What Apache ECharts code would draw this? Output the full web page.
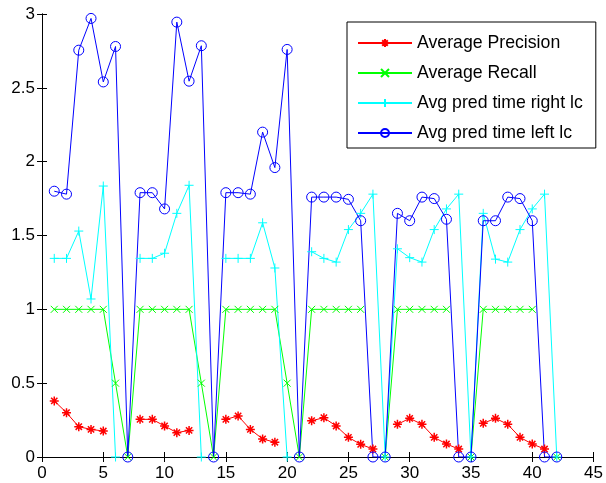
<!DOCTYPE html>
<html>
<head>
<meta charset="utf-8">
<script src="https://cdn.jsdelivr.net/npm/echarts@6/dist/echarts.min.js"></script>
<style>
html,body{margin:0;padding:0;background:#fff;}
#c{width:606px;height:483px;}
</style>
</head>
<body>
<div id="c"></div>
<script>
const xValues = [1,2,3,4,5,6,7,8,9,10,11,12,13,14,15,16,17,18,19,20,21,22,23,24,25,26,27,28,29,30,31,32,33,34,35,36,37,38,39,40,41,42];
const precision = [0.38,0.30,0.205,0.187,0.176,null,null, 0.255,0.255,0.21,0.165,0.18,null,null, 0.255,0.278,0.187,0.122,0.10,null,null, 0.246,0.266,0.21,0.133,0.086,0.054,null, 0.221,0.262,0.221,0.133,0.088,0.054,null, 0.228,0.262,0.221,0.133,0.088,0.054,null];
const recall = [1,1,1,1,1,0.5,0, 1,1,1,1,1,0.5,0, 1,1,1,1,1,0.5,0, 1,1,1,1,1,null,0, 1,1,1,1,1,null,0, 1,1,1,1,1,null,0];
const rightTime = [1.345,1.345,1.53,1.07,1.835,0,null, 1.345,1.345,1.38,1.65,1.84,0,null, 1.345,1.345,1.345,1.586,1.28,0,null, 1.39,1.345,1.32,1.54,1.65,1.78,0, 1.41,1.35,1.32,1.54,1.68,1.78,0, 1.65,1.34,1.32,1.54,1.68,1.78,0];
const leftTime = [1.80,1.78,2.755,2.97,2.54,2.78,0, 1.79,1.79,1.68,2.945,2.545,2.785,0, 1.79,1.79,1.78,2.20,1.96,2.76,0, 1.76,1.76,1.76,1.745,1.60,0,0, 1.65,1.60,1.76,1.75,1.61,0,0, 1.60,1.60,1.76,1.75,1.60,0,0];
const seriesNames = ['Average Precision','Average Recall','Avg pred time right lc','Avg pred time left lc'];

const pair = arr => xValues.map((x,i) => [x, arr[i]]);
const ASTER = 'path://M5,0L5,10M0,5L10,5M1.5,1.5L8.5,8.5M1.5,8.5L8.5,1.5';
const XMARK = 'path://M0,0L10,10M0,10L10,0';
const PLUS = 'path://M5,0L5,10M0,5L10,5';
const FONT = 'Liberation Sans';

function mk(name, data, color, symbol, size, bw){
  return {
    name, type:'line', data: pair(data),
    symbol, symbolSize:size, showSymbol:true, showAllSymbol:true,
    connectNulls:false, clip:true,
    lineStyle:{color, width:1},
    itemStyle:{color: symbol==='circle' ? 'rgba(0,0,0,0)' : color, borderColor:color, borderWidth:bw},
    emphasis:{disabled:true}
  };
}

const chart = echarts.init(document.getElementById('c'), null, {renderer:'canvas'});
chart.setOption({
  animation:false,
  backgroundColor:'#fff',
  grid:{left:42, top:14, right:6, bottom:26, containLabel:false},
  xAxis:[{
    type:'value', min:0, max:45, interval:5, position:'bottom',
    axisLine:{lineStyle:{color:'#000', width:1}},
    axisTick:{inside:true, length:5, lineStyle:{color:'#000'}},
    axisLabel:{color:'#000', fontFamily:FONT, fontSize:17, margin:8, showMaxLabel:true, showMinLabel:true},
    splitLine:{show:false}
  },{
    type:'value', min:0, max:45, interval:5, position:'top',
    axisLine:{lineStyle:{color:'#000', width:1}},
    axisTick:{inside:true, length:5, lineStyle:{color:'#000'}},
    axisLabel:{show:false}, splitLine:{show:false}
  }],
  yAxis:[{
    type:'value', min:0, max:3, interval:0.5, position:'left',
    axisLine:{show:true, lineStyle:{color:'#000', width:1}},
    axisTick:{show:true, inside:true, length:5, lineStyle:{color:'#000'}},
    axisLabel:{color:'#000', fontFamily:FONT, fontSize:17, margin:7},
    splitLine:{show:false}
  },{
    type:'value', min:0, max:3, interval:0.5, position:'right',
    axisLine:{show:true, lineStyle:{color:'#000', width:1}},
    axisTick:{show:true, inside:true, length:5, lineStyle:{color:'#000'}},
    axisLabel:{show:false}, splitLine:{show:false}
  }],
  legend:{
    data: seriesNames,
    orient:'vertical', left:347, top:22,
    padding:[12,13,6,10], itemGap:12, itemWidth:54, itemHeight:10,
    borderColor:'#000', borderWidth:1, backgroundColor:'#fff',
    textStyle:{color:'#000', fontFamily:FONT, fontSize:17.7},
    selectedMode:false
  },
  series:[
    mk(seriesNames[0], precision, '#ff0000', ASTER, 9, 1.5),
    mk(seriesNames[1], recall, '#00ff00', XMARK, 7, 1),
    mk(seriesNames[2], rightTime, '#00ffff', PLUS, 9, 1),
    mk(seriesNames[3], leftTime, '#0000ff', 'circle', 10, 1)
  ]
});
</script>
</body>
</html>
